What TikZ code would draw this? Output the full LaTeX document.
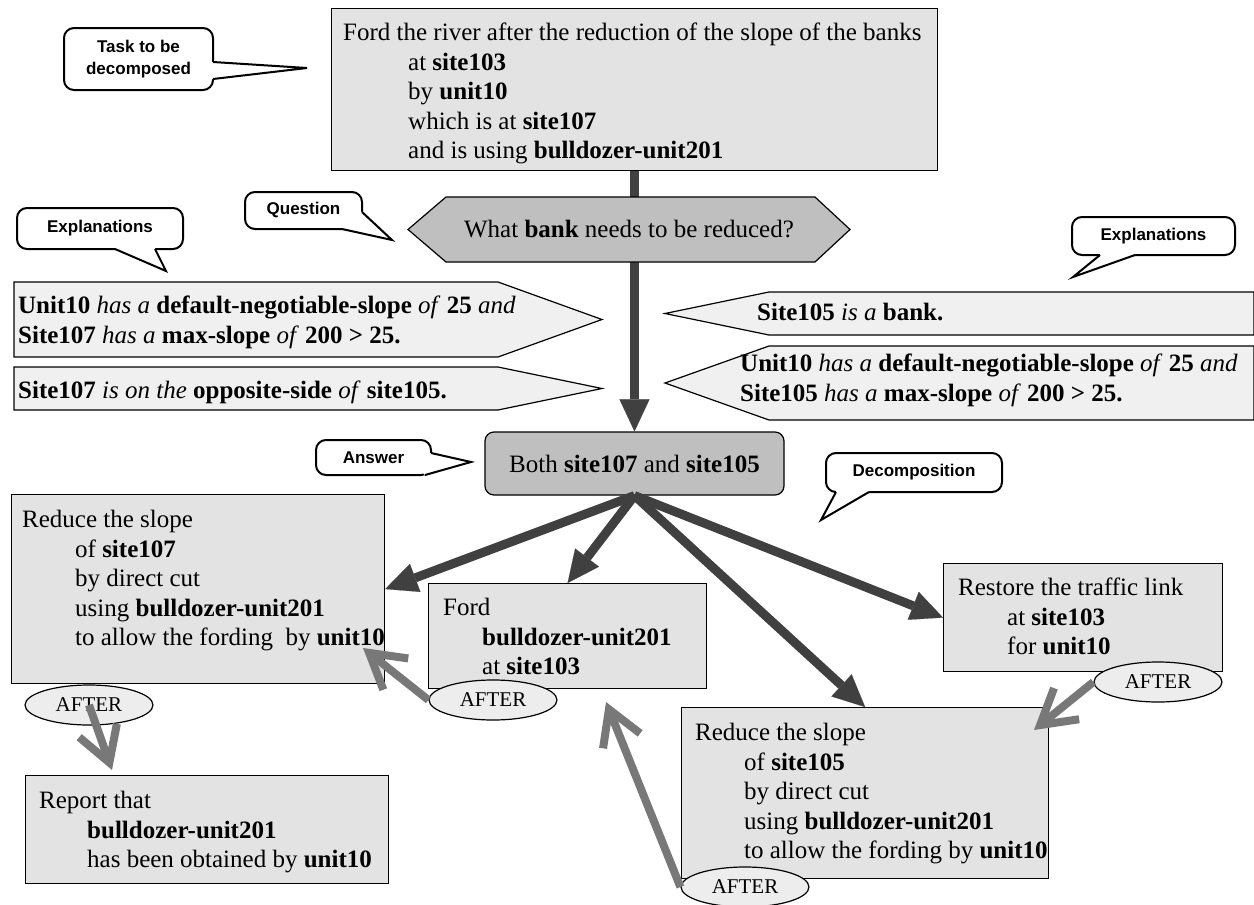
\documentclass[tikz,border=0pt]{standalone}
\usepackage{fontspec}
\setmainfont{Liberation Serif}
\newfontfamily\labelfont{Liberation Sans}
\usetikzlibrary{arrows.meta,shapes.geometric}
\definecolor{taskfill}{gray}{0.89}
\definecolor{questfill}{gray}{0.75}
\definecolor{whyfill}{gray}{0.94}
\definecolor{aftfill}{gray}{0.93}
\definecolor{decomparrow}{gray}{0.25}
\definecolor{afterarrow}{gray}{0.47}
\tikzset{
	taskbox/.style={draw, line width=1.2pt, fill=taskfill, inner sep=0pt, anchor=north west},
	boxtext/.style={inner sep=0pt, anchor=north west, align=left, font=\fontsize{25}{29.5}\selectfont},
	whybox/.style={draw, line width=1.2pt, fill=whyfill, line join=miter},
	hexa/.style={draw, line width=1.2pt, fill=questfill},
	answer/.style={draw, line width=1.2pt, fill=questfill, rounded corners=9pt, inner sep=0pt, font=\fontsize{25}{29.5}\selectfont},
	bubble/.style={draw, line width=2pt, fill=white, rounded corners=10pt, inner sep=0pt, align=center, font=\labelfont\bfseries\fontsize{17}{22}\selectfont},
	tail/.style={line width=2pt, line join=miter},
	afterlabel/.style={draw, ellipse, line width=1.2pt, fill=aftfill, minimum width=128pt, minimum height=40pt, inner sep=0pt, font=\fontsize{21}{25}\selectfont},
	decomp/.style={draw=decomparrow, line width=9pt, -{Triangle[length=32pt,width=30pt,line width=0.1pt]}},
	after/.style={draw=afterarrow, line width=8pt, -{Straight Barb[length=34pt,width=40pt]}}
}
\begin{document}
\begin{tikzpicture}[x=1pt,y=-1pt]
	\useasboundingbox (0,0) rectangle (1254,905);

	% task to be decomposed
	\node [taskbox, minimum width=606pt, minimum height=162pt] (task) at (331,8) {};
	\node [boxtext] (tasktxt) at (343,23) {Ford the river after the reduction of the slope of the banks\\
		\hspace*{65pt}at \textbf{site103}\\
		\hspace*{65pt}by \textbf{unit10}\\
		\hspace*{65pt}which is at \textbf{site107}\\
		\hspace*{65pt}and is using \textbf{bulldozer-unit201}};

	% answer first, the stem runs down to it
	\node [answer, minimum width=299pt, minimum height=63pt] (ans) at (634.5,463.5) {Both \textbf{site107} and \textbf{site105}};
	\draw [decomp] (ans.north |- task.south) -- (ans.north);

	% question
	\filldraw [hexa] (408,229.5) -- (446,197) -- (815,197) -- (850,229.5) -- (815,262) -- (446,262) -- cycle;
	\node [font=\fontsize{25}{29.5}\selectfont] (quest) at (629,229.5) {What \textbf{bank} needs to be reduced?};

	% explanations
	\filldraw [whybox] (14,282) -- (498,282) -- (602,319.5) -- (498,357) -- (14,357) -- cycle;
	\node [boxtext] (why1) at (18,296) {\textbf{Unit10} \textit{has a} \textbf{default-negotiable-slope} \textit{of} \textbf{25} \textit{and}\\
		\textbf{Site107} \textit{has a} \textbf{max-slope} \textit{of} \textbf{200 > 25.}};
	\filldraw [whybox] (14,367) -- (498,367) -- (602,388.5) -- (498,410) -- (14,410) -- cycle;
	\node [boxtext] (why2) at (18,381) {\textbf{Site107} \textit{is on the} \textbf{opposite-side} \textit{of} \textbf{site105.}};
	\filldraw [whybox] (665,313.5) -- (769,292) -- (1254,292) -- (1254,335) -- (769,335) -- cycle;
	\node [boxtext] (why3) at (757,303) {\textbf{Site105} \textit{is a} \textbf{bank.}};
	\filldraw [whybox] (665,383) -- (769,346) -- (1254,346) -- (1254,420) -- (769,420) -- cycle;
	\node [boxtext] (why4) at (740,354) {\textbf{Unit10} \textit{has a} \textbf{default-negotiable-slope} \textit{of} \textbf{25} \textit{and}\\
		\textbf{Site105} \textit{has a} \textbf{max-slope} \textit{of} \textbf{200 > 25.}};

	% callouts
	\node [bubble, minimum width=149pt, minimum height=62pt] (tbub) at (138.5,59) {Task to be\\decomposed};
	\fill [white] (213,62) -- (307,68) -- (213,79) -- (208,79) -- (208,62) -- cycle;
	\draw [tail] (213,62) -- (307,68) -- (213,79);
	\node [bubble, minimum width=117pt, minimum height=37pt] (qbub) at (303.5,210.5) {Question};
	\fill [white] (362,212) -- (392,240) -- (342,229) -- (342,222) -- (356,210) -- cycle;
	\draw [tail] (362,212) -- (392,240) -- (342,229);
	\node [bubble, minimum width=166pt, minimum height=41pt] (ebub1) at (100,228.5) {Explanations};
	\fill [white] (115,249) -- (166,271) -- (155,249) -- (155,245) -- (115,245) -- cycle;
	\draw [tail] (115,249) -- (166,271) -- (155,249);
	\node [bubble, minimum width=163pt, minimum height=38pt] (ebub2) at (1153.5,236) {Explanations};
	\fill [white] (1135,255) -- (1073,277) -- (1100,255) -- (1100,251) -- (1135,251) -- cycle;
	\draw [tail] (1135,255) -- (1073,277) -- (1100,255);
	\node [bubble, minimum width=115pt, minimum height=35pt] (abub) at (373.5,457.5) {Answer};
	\fill [white] (431,453) -- (471,462) -- (425,475) -- (420,470) -- (427,453) -- cycle;
	\draw [tail] (431,453) -- (471,462) -- (425,475);
	\node [bubble, minimum width=176pt, minimum height=39pt] (dbub) at (914,472.5) {Decomposition};
	\fill [white] (869,492) -- (821,520) -- (836,492) -- (836,488) -- (869,488) -- cycle;
	\draw [tail] (869,492) -- (821,520) -- (836,492);

	% subtasks
	\node [taskbox, minimum width=373pt, minimum height=189pt] (red1) at (11,494) {};
	\node [boxtext] (red1txt) at (22,510) {Reduce the slope\\
		\hspace*{53pt}of \textbf{site107}\\
		\hspace*{53pt}by direct cut\\
		\hspace*{53pt}using \textbf{bulldozer-unit201}\\
		\hspace*{53pt}to allow the fording\ \ by \textbf{unit10}};
	\node [taskbox, minimum width=278pt, minimum height=105pt] (ford) at (428,583) {};
	\node [boxtext] (fordtxt) at (443,598) {Ford\\
		\hspace*{39pt}\textbf{bulldozer-unit201}\\
		\hspace*{39pt}at \textbf{site103}};
	\node [taskbox, minimum width=279pt, minimum height=108pt] (rest) at (943,563) {};
	\node [boxtext] (resttxt) at (958,578) {Restore the traffic link\\
		\hspace*{49pt}at \textbf{site103}\\
		\hspace*{49pt}for \textbf{unit10}};
	\node [taskbox, minimum width=367pt, minimum height=171pt] (red2) at (681,707) {};
	\node [boxtext] (red2txt) at (695,723) {Reduce the slope\\
		\hspace*{49pt}of \textbf{site105}\\
		\hspace*{49pt}by direct cut\\
		\hspace*{49pt}using \textbf{bulldozer-unit201}\\
		\hspace*{49pt}to allow the fording by \textbf{unit10}};
	\node [taskbox, minimum width=363pt, minimum height=108pt] (rep) at (25,775) {};
	\node [boxtext] (reptxt) at (39,791) {Report that\\
		\hspace*{48pt}\textbf{bulldozer-unit201}\\
		\hspace*{48pt}has been obtained by \textbf{unit10}};

	\draw [decomp] (ans.south) -- (red1.east);
	\draw [decomp] (ans.south) -- (ford.north);
	\draw [decomp] (ans.south) -- (red2.north);
	\draw [decomp] (ans.south) -- (rest.west);

	% ordering
	\node [afterlabel] (aft1) at (89,705) {AFTER};
	\node [afterlabel] (aft2) at (493,700) {AFTER};
	\node [afterlabel] (aft3) at (1158,682) {AFTER};
	\node [afterlabel] (aft4) at (745,887) {AFTER};
	\coordinate (rep in) at (112,770);
	\coordinate (red1 in) at (363,648);
	\coordinate (red2 in) at (1034,730);
	\coordinate (ford in) at (606,702);
	\draw [after] (aft1.center) -- (rep in);
	\draw [after] (aft2.west) -- (red1 in);
	\draw [after] (aft3.west) -- (red2 in);
	\draw [after] (aft4.west) -- (ford in);
\end{tikzpicture}
\end{document}
